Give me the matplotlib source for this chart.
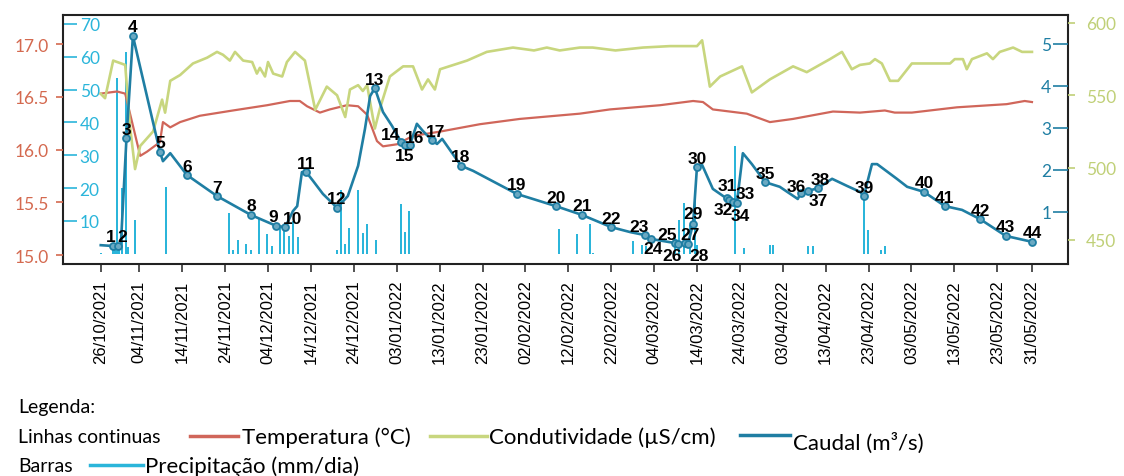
import numpy as np
import pandas as pd
import matplotlib
matplotlib.use("Agg")
import matplotlib.pyplot as plt
from matplotlib.lines import Line2D

# Dados (dias contados a partir de 26/10/2021)
inicio = pd.Timestamp("2021-10-26")

caudal_dias = [0, 2.9, 4.0, 4.7, 6.0, 7.5, 13.8, 14.5, 16.2, 20.1, 27.1, 35.0, 40.9, 43.0,
               44.8, 45.8, 46.9, 47.9, 49.5, 51.8, 55.1, 57.6, 60.0, 61.6, 62.8, 63.9, 65.8,
               67.9, 70.0, 70.9, 72.1, 73.7, 75.1, 77.2, 78.4, 79.6, 84.0, 86.8, 97.0, 106.1,
               112.2, 119.0, 123.5, 126.9, 128.2, 133.9, 134.6, 136.2, 136.9, 138.1, 139.0,
               140.2, 142.7, 145.1, 146.0, 146.5, 147.4, 148.3, 149.7, 151.8, 154.9, 158.3,
               162.5, 163.2, 164.9, 167.2, 170.5, 174.0, 177.0, 177.9, 179.8, 181.0, 185.6,
               188.0, 191.9, 196.8, 200.8, 205.0, 211.0, 217.1]
caudal_vals = [0.21, 0.19, 0.19, 0.25, 2.76, 5.19, 2.43, 2.21, 2.40, 1.88, 1.38, 0.93, 0.67, 0.64,
               1.02, 1.14, 1.95, 1.95, 1.74, 1.43, 1.10, 1.38, 2.10, 2.98, 3.76, 3.95, 3.38,
               3.05, 2.67, 2.60, 2.60, 3.10, 2.93, 2.71, 2.62, 2.74, 2.10, 1.98, 1.43, 1.14,
               0.93, 0.64, 0.52, 0.45, 0.36, 0.26, 0.24, 0.26, 0.24, 0.72, 2.07,
               2.12, 1.55, 1.38, 1.33, 1.29, 1.24, 1.21, 2.40, 2.14, 1.71, 1.60,
               1.31, 1.45, 1.50, 1.57, 1.79, 1.62, 1.48, 1.38, 2.14, 2.14, 1.79,
               1.60, 1.48, 1.14, 1.05, 0.83, 0.43, 0.29]

# Pontos de amostragem 1 a 44 (sobre a curva do caudal)
pontos_dias = [2.9, 4.0, 6.0, 7.5, 13.8, 20.1, 27.1, 35.0, 40.9, 43.0, 47.9, 55.1, 63.9, 70.0,
               70.9, 72.1, 77.2, 84.0, 97.0, 106.1, 112.2, 119.0, 126.9, 128.2, 133.9, 134.6,
               136.2, 136.9, 138.1, 139.0, 146.0, 146.5, 147.4, 148.3, 154.9, 163.2, 164.9,
               167.2, 177.9, 191.9, 196.8, 205.0, 211.0, 217.1]
pontos_caudal = [0.19, 0.19, 2.76, 5.19, 2.43, 1.88, 1.38, 0.93, 0.67, 0.64, 1.95, 1.10, 3.95,
                 2.67, 2.60, 2.60, 2.71, 2.10, 1.43, 1.14, 0.93, 0.64, 0.45, 0.36, 0.26, 0.24,
                 0.26, 0.24, 0.72, 2.07, 1.33, 1.29, 1.24, 1.21, 1.71, 1.45, 1.50, 1.57, 1.38,
                 1.48, 1.14, 0.83, 0.43, 0.29]

temp_dias = [0, 3.8, 5.7, 7.3, 9.2, 10.8, 13.8, 14.5, 16.2, 18.5, 23.1, 30.8, 38.8, 44.1, 46.4,
             48.1, 51.1, 53.4, 57.4, 60.0, 62.1, 64.4, 65.8, 69.1, 72.8, 76.1, 79.1, 88.4, 97.7,
             111.7, 118.7, 130.4, 138.1, 140.4, 142.7, 150.6, 156.0, 161.4, 170.7, 177.0, 182.8,
             185.1, 189.1, 199.6, 211.2, 215.4, 217.1]
temp_vals = [16.53, 16.55, 16.53, 16.26, 15.94, 15.98, 16.07, 16.26, 16.21, 16.26, 16.32, 16.37,
             16.42, 16.46, 16.46, 16.41, 16.35, 16.38, 16.42, 16.41, 16.33, 16.08, 16.03, 16.05,
             16.13, 16.15, 16.17, 16.24, 16.29, 16.34, 16.38, 16.42, 16.46, 16.45, 16.38, 16.34,
             16.26, 16.29, 16.36, 16.35, 16.37, 16.35, 16.35, 16.40, 16.43, 16.46, 16.45]

cond_dias = [0, 1.0, 2.9, 5.7, 6.8, 8.0, 9.2, 12.2, 14.3, 15.0, 16.2, 18.5, 21.5, 24.8, 27.1,
             28.5, 30.1, 31.3, 33.2, 35.3, 36.4, 37.1, 38.3, 39.0, 40.2, 42.3, 43.4, 45.3, 47.6,
             50.0, 52.7, 55.1, 57.0, 58.1, 60.0, 61.1, 62.1, 63.9, 65.1, 67.4, 70.5, 72.8, 74.9,
             76.3, 77.9, 79.1, 85.4, 90.0, 96.1, 101.0, 104.0, 107.0, 111.7, 114.7, 120.0, 126.4,
             132.7, 139.0, 140.2, 142.0, 144.4, 149.5, 151.8, 156.0, 161.4, 164.6, 170.0, 172.8,
             175.1, 177.0, 179.3, 180.5, 182.1, 184.0, 185.9, 189.1, 198.0, 199.1, 201.0, 201.9,
             203.1, 206.6, 208.0, 209.6, 212.7, 214.8, 217.1]
cond_vals = [551, 548, 574, 571, 529, 499, 515, 525, 547, 538, 560, 564, 572, 576, 580,
             578, 574, 580, 574, 573, 565, 569, 563, 573, 565, 563, 573, 580, 574,
             540, 556, 550, 535, 554, 557, 553, 557, 527, 541, 563, 570, 570, 554,
             561, 554, 568, 574, 580, 583, 581, 583, 581, 583, 583, 581, 583,
             584, 584, 588, 556, 563, 570, 552, 561, 570, 566, 575, 580,
             568, 571, 572, 575, 572, 560, 560, 572, 572, 575, 575, 568,
             575, 579, 575, 580, 583, 580, 580]

precip_dias = [0.0, 2.9, 3.3, 3.8, 4.3, 5.0, 5.9, 6.4, 8.0, 15.2, 29.9, 30.8, 32.0, 33.9, 35.0,
               36.9, 38.8, 39.9, 41.8, 42.8, 43.8, 44.8, 46.0, 55.1, 56.0, 57.0, 57.9, 60.0,
               61.1, 62.1, 64.2, 70.0, 70.9, 71.9, 106.8, 111.0, 114.0, 114.8, 124.1, 126.2,
               127.1, 133.9, 134.8, 136.0, 137.4, 138.5, 139.0, 147.8, 150.0, 156.0, 156.7,
               164.9, 166.0, 177.9, 178.8, 181.9, 182.8]
precip_vals = [0.3, 2.5, 2.5, 53.6, 2.5, 20.0, 61.5, 2.0, 10.3, 20.3, 12.4, 1.2, 4.2, 3.0, 1.2,
               11.0, 6.0, 2.4, 8.5, 9.0, 5.5, 10.0, 5.0, 1.2, 19.4, 3.0, 7.9, 19.4,
               6.4, 9.1, 4.2, 15.2, 6.7, 13.0, 7.6, 6.1, 9.1, 0.3, 3.9, 2.7,
               2.4, 5.5, 10.3, 15.5, 8.8, 17.0, 2.7, 32.7, 1.8, 2.7, 2.7,
               2.4, 2.4, 18.5, 7.3, 1.2, 2.4]

datas_ticks = ["26/10/2021", "04/11/2021", "14/11/2021", "24/11/2021", "04/12/2021",
               "14/12/2021", "24/12/2021", "03/01/2022", "13/01/2022", "23/01/2022",
               "02/02/2022", "12/02/2022", "22/02/2022", "04/03/2022", "14/03/2022",
               "24/03/2022", "03/04/2022", "13/04/2022", "23/04/2022", "03/05/2022",
               "13/05/2022", "23/05/2022", "31/05/2022"]

# cores
c_temp = "#d0665a"
c_temp_txt = "#d4694f"
c_cond = "#c8d67e"
c_cond_txt = "#c0d078"
c_caudal = "#1f7ea3"
c_precip = "#2bb5da"


def em_datas(dias):
    return inicio + pd.to_timedelta(np.array(dias), unit="D")


plt.rcParams["font.family"] = ["Lato", "DejaVu Sans"]

fig = plt.figure(figsize=(11.24, 4.77), dpi=100)
ax = fig.add_axes([63 / 1124, 1 - 265 / 477, (1068 - 63) / 1124, (265 - 16) / 477])

# Precipitação (barras) - eixo principal
ax.bar(em_datas(precip_dias), precip_vals, width=0.45, color=c_precip, zorder=2)
ax.set_ylim(-3.1, 72.7)
ax.set_yticks([10, 20, 30, 40, 50, 60, 70])
ax.tick_params(axis="y", direction="in", length=10, width=1.2, colors=c_precip,
               labelsize=12.5, pad=-12)
plt.setp(ax.get_yticklabels(), ha="left")
ax.set_xlim(inicio - pd.Timedelta(days=8.8), inicio + pd.Timedelta(days=225.5))
ax.set_xticks(pd.to_datetime(datas_ticks, dayfirst=True))
ax.set_xticklabels(datas_ticks, rotation=90, family="Liberation Sans", fontsize=12)
ax.tick_params(axis="x", direction="out", length=6, width=1.2, color="#333333", pad=5)
for s in ax.spines.values():
    s.set_color("#222222")
    s.set_linewidth(1.5)

# Temperatura
ax_t = ax.twinx()
ax_t.yaxis.tick_left()
ax_t.plot(em_datas(temp_dias), temp_vals, color=c_temp, lw=1.6)
ax_t.set_ylim(14.915, 17.275)
ax_t.set_yticks([15.0, 15.5, 16.0, 16.5, 17.0])
ax_t.set_yticklabels(["15.0", "15.5", "16.0", "16.5", "17.0"])
ax_t.tick_params(axis="y", direction="out", length=5, width=1.2, colors=c_temp_txt,
                 labelsize=12.5, pad=5)

# Condutividade
ax_c = ax.twinx()
ax_c.plot(em_datas(cond_dias), cond_vals, color=c_cond, lw=1.9)
ax_c.set_ylim(433.4, 605.5)
ax_c.set_yticks([450, 500, 550, 600])
ax_c.tick_params(axis="y", direction="out", length=5, width=1.2, colors=c_cond_txt,
                 labelsize=12.5, pad=8)

# Caudal
ax_q = ax.twinx()
ax_q.plot(em_datas(caudal_dias), caudal_vals, color=c_caudal, lw=1.9)
ax_q.plot(em_datas(pontos_dias), pontos_caudal, "o", ms=5, mfc="#6aa9c2", mec=c_caudal, mew=1.3)
ax_q.set_ylim(-0.238, 5.69)
ax_q.set_yticks([1, 2, 3, 4, 5])
ax_q.tick_params(axis="y", direction="in", length=11, width=1.2, colors=c_caudal,
                 labelsize=12.5, pad=-12)
plt.setp(ax_q.get_yticklabels(), ha="right")

for a in (ax_t, ax_c, ax_q):
    for s in a.spines.values():
        s.set_visible(False)

# Etiquetas dos pontos
desvios = {1: (-1.5, 6.5), 2: (3, 6.5), 9: (-2.5, 6.5), 10: (5, 6.5), 14: (-7.5, 5.5),
           15: (0, -7.5), 16: (3, 5), 17: (2.5, 6.5), 23: (-4, 6.5), 24: (1.5, -7),
           25: (-5.5, 6.5), 26: (-4, -8.5), 27: (4, 6.5), 28: (8, -8.5), 29: (0, 7.5),
           30: (0, 6.5), 31: (0, 9), 32: (-4.5, -7), 33: (9, 6), 34: (2.5, -9), 36: (-3, 5),
           37: (7, -6.5), 38: (2, 6)}
for i, (d, q) in enumerate(zip(pontos_dias, pontos_caudal), start=1):
    dx, dy = desvios.get(i, (0, 6.5))
    ax_q.annotate(str(i), (em_datas([d])[0], q), xytext=(dx, dy), textcoords="offset points",
                  ha="center", va="center", fontsize=12.5, fontweight="bold",
                  family="Liberation Sans", color="black", zorder=5)

# Legenda (texto e traços abaixo do gráfico)
fs = 16
fig.text(18 / 1124, 1 - 408 / 477, "Legenda:", fontsize=14, va="center")
fig.text(18 / 1124, 1 - 438 / 477, "Linhas continuas", fontsize=14, va="center")
fig.text(18 / 1124, 1 - 467 / 477, "Barras", fontsize=14, va="center")
itens = [(190, 238, 437, c_temp, 242, 438, "Temperatura (°C)"),
         (430, 487, 437, c_cond, 489, 438, "Condutividade (µS/cm)"),
         (740, 790, 436, c_caudal, 793, 443, "Caudal (m³/s)"),
         (90, 143, 466, c_precip, 145, 467, "Precipitação (mm/dia)")]
for x0, x1, yl, cor, xt, yt, txt in itens:
    fig.add_artist(Line2D([x0 / 1124, x1 / 1124], [1 - yl / 477, 1 - yl / 477],
                          color=cor, lw=2.5, transform=fig.transFigure))
    fig.text(xt / 1124, 1 - yt / 477, txt, fontsize=fs, va="center")

fig.savefig("out.png", dpi=100)
